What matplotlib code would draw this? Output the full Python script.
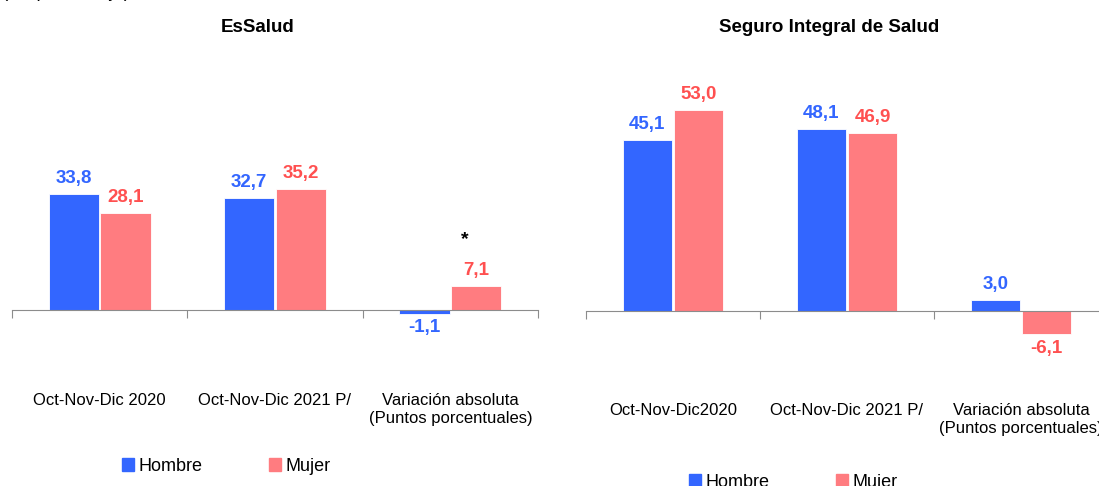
import matplotlib.pyplot as plt
from matplotlib.patches import Patch

plt.rcParams['font.family'] = ['Liberation Sans', 'DejaVu Sans']

# data
cats_left = ["Oct-Nov-Dic 2020", "Oct-Nov-Dic 2021 P/", "Variación absoluta\n(Puntos porcentuales)"]
cats_right = ["Oct-Nov-Dic2020", "Oct-Nov-Dic 2021 P/", "Variación absoluta\n(Puntos porcentuales)"]
essalud_hombre = [33.8, 32.7, -1.1]
essalud_mujer = [28.1, 35.2, 7.1]
sis_hombre = [45.1, 48.1, 3.0]
sis_mujer = [53.0, 46.9, -6.1]

BLUE = "#3366FF"
PINK = "#FF7C80"
BLUE_TXT = "#3366FF"
PINK_TXT = "#FF5050"

W, H = 1099, 486
fig = plt.figure(figsize=(W / 100, H / 100), dpi=100)


def fx(px):
    return px / W


def fy(px):
    return 1 - px / H


def panel(rect, ylim, cats, hombre, mujer, title, title_xy, label_off, star=None):
    ax = fig.add_axes(rect)
    x = list(range(len(cats)))
    bw = 0.286
    off = 0.147
    b1 = ax.bar([i - off for i in x], hombre, bw, color=BLUE, edgecolor='white', linewidth=0.6)
    b2 = ax.bar([i + off for i in x], mujer, bw, color=PINK, edgecolor='white', linewidth=0.6)
    for bars, vals, col in ((b1, hombre, BLUE_TXT), (b2, mujer, PINK_TXT)):
        for b, v in zip(bars, vals):
            cx = b.get_x() + b.get_width() / 2
            txt = f"{v:.1f}".replace('.', ',')
            if v >= 0:
                ax.annotate(txt, (cx, v), xytext=(0, 5), textcoords='offset points',
                            ha='center', va='bottom', color=col, fontsize=13.5, fontweight='bold')
            else:
                ax.annotate(txt, (cx, v), xytext=(0, -4), textcoords='offset points',
                            ha='center', va='top', color=col, fontsize=13.5, fontweight='bold')
    if star is not None:
        i = star
        ax.annotate("*", (i + off, mujer[i]), xytext=(-8, 27), textcoords='offset points',
                    ha='center', va='bottom', color='black', fontsize=14, fontweight='bold')
    for i, c in enumerate(cats):
        ax.annotate(c, (i, 0), xytext=(0, -label_off), textcoords='offset points',
                    ha='center', va='top', fontsize=12, linespacing=1.25)
    ax.set_xlim(-0.5, len(cats) - 0.5)
    ax.set_ylim(*ylim)
    for s in ('top', 'right', 'left'):
        ax.spines[s].set_visible(False)
    ax.spines['bottom'].set_position(('data', 0))
    ax.spines['bottom'].set_color('#8c8c8c')
    ax.set_xticks([i - 0.5 for i in range(len(cats) + 1)])
    ax.set_xticklabels([])
    ax.tick_params(axis='x', direction='out', length=6, color='#8c8c8c')
    ax.set_yticks([])
    fig.text(fx(title_xy[0]), fy(title_xy[1]), title, ha='center', va='center',
             fontsize=13.5, fontweight='bold')
    return ax


# left panel: zero at y=310px, 3.44 px/unit
lo, hi, s = -5, 40, 3.44
bottom_px = 310 + (-lo) * s
panel([fx(12), fy(bottom_px), fx(538 - 12), (hi - lo) * s / H], (lo, hi),
      cats_left, essalud_hombre, essalud_mujer, "EsSalud", (258, 27), 60, star=2)

# right panel: zero at y=311px, 3.79 px/unit
lo, hi, s = -10, 58, 3.79
bottom_px = 311 + (-lo) * s
panel([fx(586), fy(bottom_px), fx(1108 - 586), (hi - lo) * s / H], (lo, hi),
      cats_right, sis_hombre, sis_mujer, "Seguro Integral de Salud", (829, 27), 66)

# partly cut-off subtitle at the very top, as in the source
fig.text(fx(2), 1.015, "(En porcentaje)", ha='left', va='center', fontsize=13.5)

handles = [Patch(color=BLUE, label='Hombre'), Patch(color=PINK, label='Mujer')]
for cx, cy in ((226, 466), (793, 482)):
    fig.legend(handles=handles, loc='center', bbox_to_anchor=(fx(cx), fy(cy)), ncol=2,
               frameon=False, fontsize=13, handlelength=0.7, handleheight=0.7,
               handletextpad=0.2, columnspacing=3.7, borderaxespad=0)

fig.savefig("out.png", dpi=100)
